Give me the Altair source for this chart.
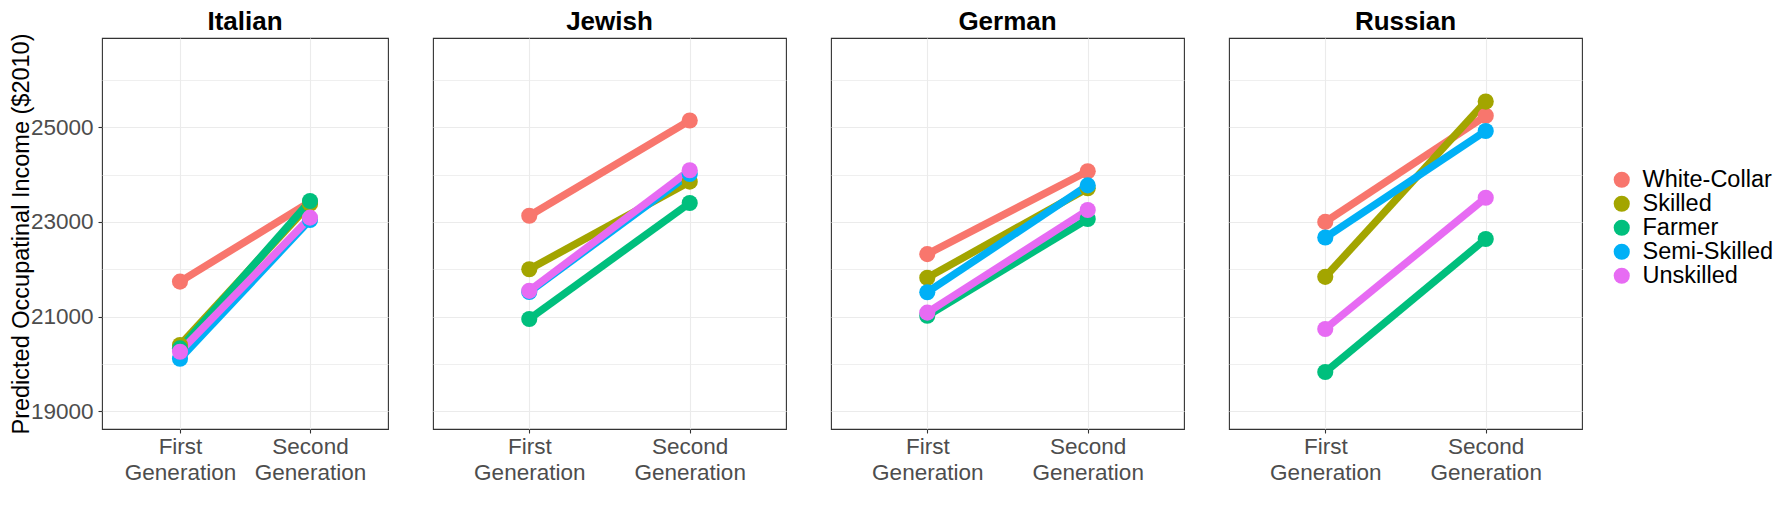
import altair as alt
import pandas as pd

FONT = "Liberation Sans"

groups = ["Italian", "Jewish", "German", "Russian"]
occupations = ["White-Collar", "Skilled", "Farmer", "Semi-Skilled", "Unskilled"]
generations = ["First Generation", "Second Generation"]
palette = ["#F8766D", "#A3A500", "#00BF7D", "#00B0F6", "#E76BF3"]

# predicted income by occupation (order as in `occupations`)
italian_first = [21740, 20400, 20330, 20110, 20260]
italian_second = [23420, 23380, 23440, 23040, 23090]
jewish_first = [23130, 22000, 20950, 21520, 21545]
jewish_second = [25140, 23850, 23400, 24010, 24090]
german_first = [22320, 21820, 21020, 21515, 21085]
german_second = [24070, 23710, 23060, 23770, 23250]
russian_first = [23000, 21840, 19830, 22670, 20740]
russian_second = [25240, 25540, 22640, 24920, 23510]

y_ticks = [19000, 20000, 21000, 22000, 23000, 24000, 25000, 26000]
y_domain = [18628, 26882]

series = {
    "Italian": (italian_first, italian_second),
    "Jewish": (jewish_first, jewish_second),
    "German": (german_first, german_second),
    "Russian": (russian_first, russian_second),
}

rows = []
for g in groups:
    first, second = series[g]
    for i, occ in enumerate(occupations):
        rows.append({"group": g, "occupation": occ, "order": i, "generation": generations[0], "income": first[i]})
        rows.append({"group": g, "occupation": occ, "order": i, "generation": generations[1], "income": second[i]})
df = pd.DataFrame(rows)

minor_test = "datum.value % 2000 == 0"

color_scale = alt.Scale(domain=occupations, range=palette)
legend = alt.Legend(
    title=None, orient="none", legendX=1508, legendY=130,
    symbolType="circle", symbolSize=260, symbolStrokeWidth=0, symbolOpacity=1,
    labelFont=FONT, labelFontSize=23.5, labelColor="black", labelOffset=9,
    rowPadding=-2,
)


def panel(name, width, first):
    d = df[df["group"] == name]
    if first:
        yaxis = alt.Axis(
            values=y_ticks, format="d",
            labelExpr="datum.value % 2000 == 1000 ? datum.label : ''",
            title="Predicted Occupatinal Income ($2010)",
            titleFont=FONT, titleFontSize=23.5, titleFontWeight="normal", titleColor="black",
            titlePadding=-3,
            labelFont=FONT, labelFontSize=22.5, labelColor="#4D4D4D", labelPadding=5,
            tickColor="#333333", tickSize=4, tickWidth=1.1,
            tickOpacity={"condition": {"test": minor_test, "value": 0}, "value": 1},
            domain=False, grid=True, gridColor="#EBEBEB",
            gridWidth={"condition": {"test": minor_test, "value": 0.8}, "value": 1.1},
        )
    else:
        yaxis = alt.Axis(
            values=y_ticks, labels=False, ticks=False, title=None, domain=False,
            grid=True, gridColor="#EBEBEB",
            gridWidth={"condition": {"test": minor_test, "value": 0.8}, "value": 1.1},
        )
    xaxis = alt.Axis(
        title=None, labelAngle=0, labelExpr="split(datum.label, ' ')",
        labelFont=FONT, labelFontSize=22.5, labelColor="#4D4D4D", labelLineHeight=26,
        labelPadding=2, tickColor="#333333", tickSize=4, tickWidth=1.1,
        domain=False, grid=True, gridColor="#EBEBEB", gridWidth=1.1, labelOverlap=False,
    )
    x = alt.X("generation:N", sort=generations, scale=alt.Scale(type="point", padding=0.6), axis=xaxis)
    y = alt.Y("income:Q", scale=alt.Scale(domain=y_domain, nice=False, zero=False), axis=yaxis)

    lines = alt.Chart(d).mark_line(strokeWidth=7.5).encode(
        x=x, y=y,
        color=alt.Color("occupation:N", scale=color_scale, legend=legend),
        order=alt.Order("order:Q"),
    )
    pts = alt.Chart(d).mark_circle(size=260, opacity=1).encode(
        x=x, y=y,
        color=alt.Color("occupation:N", scale=color_scale, legend=legend),
        order=alt.Order("order:Q"),
    )
    return alt.layer(lines, pts).properties(
        width=width, height=391,
        title=alt.TitleParams(
            text=name, font=FONT, fontSize=26, fontWeight="bold", color="black",
            anchor="middle", frame="group", offset=-2 if first else 3,
        ),
    )


chart = alt.hconcat(
    panel("Italian", 286, True),
    panel("Jewish", 353, False),
    panel("German", 353, False),
    panel("Russian", 353, False),
    spacing=43,
).properties(
    padding={"left": 0, "top": 0, "right": 0, "bottom": 0},
    background="white",
).configure_view(stroke="#333333", strokeWidth=1.1)

chart.save("out.html", embed_options={"renderer": "svg", "actions": False})
